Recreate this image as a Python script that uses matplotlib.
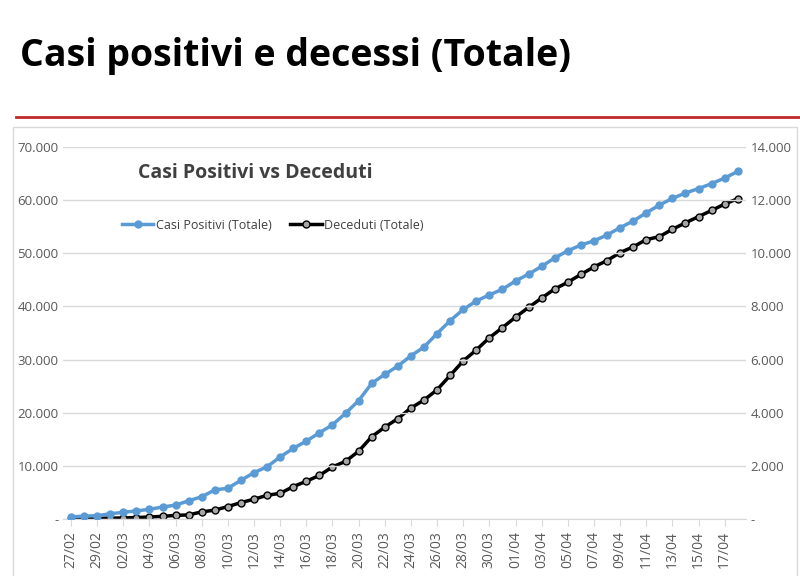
import matplotlib
matplotlib.use("Agg")
import matplotlib.pyplot as plt
from matplotlib.ticker import FuncFormatter
import datetime as dt

dates = [(dt.date(2020,2,27)+dt.timedelta(days=i)).strftime("%d/%m") for i in range(52)]
casi = [403,531,615,984,1254,1520,1820,2251,2612,3420,4189,5469,5791,7280,8725,9820,11685,13272,14649,16220,17713,19884,22264,25515,27206,28761,30703,32346,34889,37298,39415,41007,42161,43208,44773,46065,47520,49118,50455,51534,52325,53414,54802,56048,57592,59052,60314,61326,62153,63094,64135,65381]
deceduti = [14,17,23,31,38,55,73,98,135,154,267,333,468,617,744,890,966,1218,1420,1640,1959,2168,2549,3095,3456,3776,4178,4474,4861,5402,5944,6360,6818,7199,7593,7960,8311,8656,8905,9202,9484,9722,10022,10238,10511,10621,10901,11142,11377,11608,11851,12050]

plt.rcParams['font.family'] = ['Open Sans', 'DejaVu Sans']
fig = plt.figure(figsize=(8, 5.76), dpi=100)
fig.text(0.025, 0.885, "Casi positivi e decessi (Totale)", fontsize=27, fontweight='bold', family='Open Sans', color='black')
fig.add_artist(plt.Line2D([0.02, 1.0], [0.797, 0.797], color='#c0282d', lw=2))
fig.add_artist(plt.Rectangle((0.016, -0.01), 0.98, 0.79, fill=False, ec='#d9d9d9', lw=1))

ax = fig.add_axes([0.079, 0.099, 0.853, 0.646])
ax2 = ax.twinx()
x = list(range(len(dates)))
ax.plot(x, casi, color='#5b9bd5', lw=2.5, marker='o', ms=5, mfc='#5b9bd5', mec='#5b9bd5', label='Casi Positivi (Totale)', zorder=3)
ax2.plot(x, deceduti, color='black', lw=2.5, marker='o', ms=5, mfc='#a6a6a6', mec='black', mew=1, label='Deceduti (Totale)')
ax.set_ylim(0, 70000); ax2.set_ylim(0, 14000)
ax.set_yticks(range(0, 70001, 10000)); ax2.set_yticks(range(0, 14001, 2000))
fmt = FuncFormatter(lambda v, p: '-' if v == 0 else f"{int(v):,}".replace(',', '.'))
ax.yaxis.set_major_formatter(fmt); ax2.yaxis.set_major_formatter(fmt)
ax.set_xlim(-0.6, len(dates) - 0.4)
ax.set_xticks(x[::2]); ax.set_xticklabels(dates[::2], rotation=90, fontsize=10, color='#595959')
ax.grid(axis='y', color='#d9d9d9', lw=1); ax.set_axisbelow(True)
for a in (ax, ax2):
    for s in a.spines.values(): s.set_visible(False)
    a.tick_params(axis='y', length=0, labelsize=9.5, labelcolor='#595959')
ax.spines['bottom'].set_visible(True); ax.spines['bottom'].set_color('#d9d9d9')
ax.tick_params(axis='x', color='#d9d9d9', length=5)
ax.set_zorder(ax2.get_zorder() + 1); ax.patch.set_visible(False)
ax.text(0.11, 0.93, "Casi Positivi vs Deceduti", transform=ax.transAxes, fontsize=14, fontweight='bold', color='#404040', va='center')
h1, l1 = ax.get_legend_handles_labels(); h2, l2 = ax2.get_legend_handles_labels()
ax.legend(h1 + h2, l1 + l2, loc='center left', bbox_to_anchor=(0.07, 0.79), ncol=2, frameon=False, fontsize=9, handlelength=2.5, handletextpad=0.2, columnspacing=1.5, labelcolor='#404040')
fig.savefig("out.png")
